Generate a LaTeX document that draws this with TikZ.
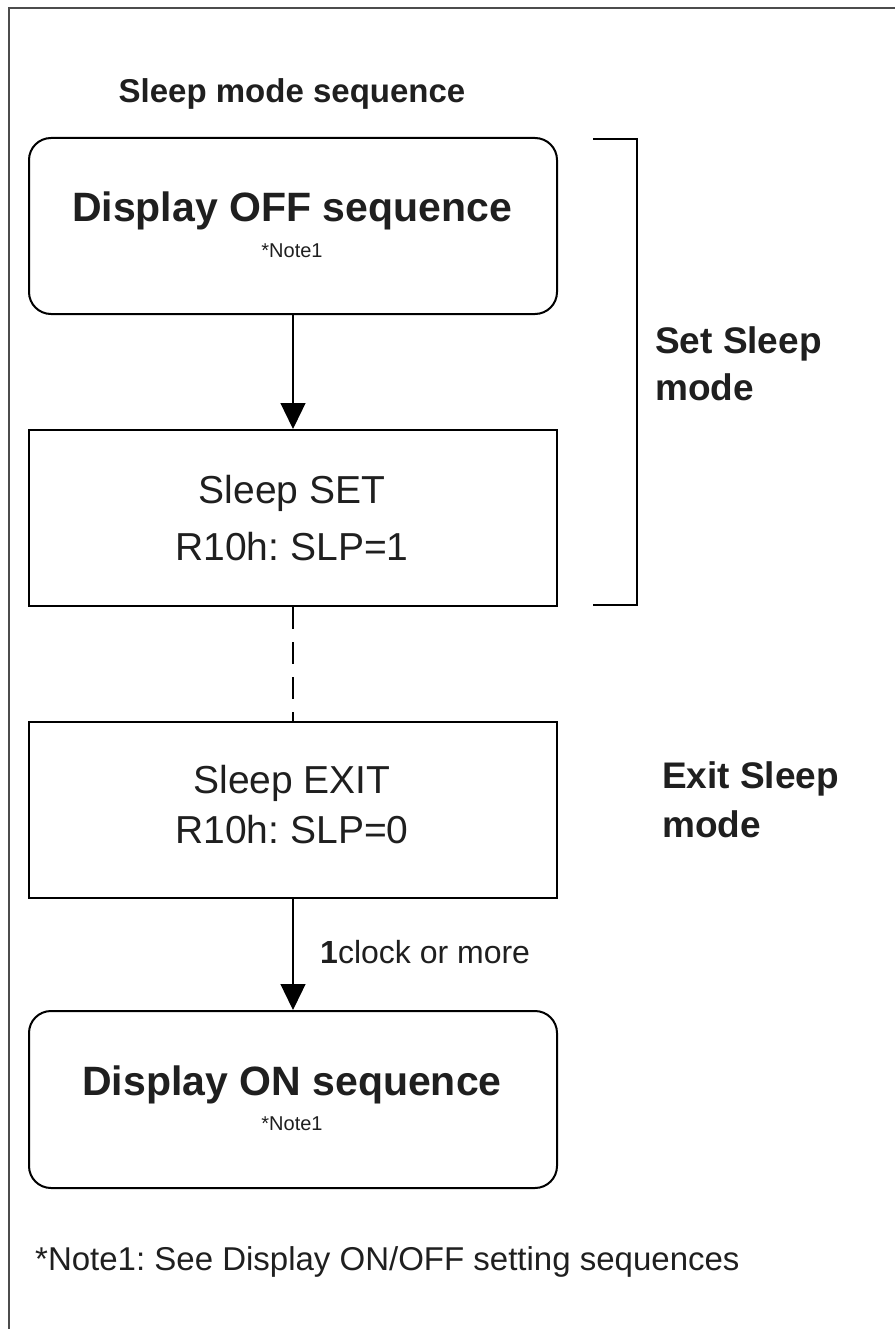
\documentclass[tikz,border=0pt]{standalone}
\usepackage{fontspec}
\setmainfont{Liberation Sans}
\usetikzlibrary{arrows.meta}
\frenchspacing
\begin{document}
\begin{tikzpicture}[x=1pt,y=-1pt,
  box/.style={draw=black, line width=2pt, minimum width=528pt, minimum height=176pt, inner sep=0pt, anchor=north west},
  rbox/.style={box, rounded corners=22pt},
  txt/.style={inner sep=0pt, anchor=base, text=black!88},
  bigbold/.style={txt, font=\fontsize{41}{49}\selectfont\bfseries},
  boxtext/.style={txt, font=\fontsize{39}{47}\selectfont},
  sidebold/.style={txt, anchor=base west, font=\fontsize{37}{44}\selectfont\bfseries},
  notetext/.style={txt, font=\fontsize{20}{24}\selectfont},
  flow/.style={line width=1.3pt, -{Triangle[length=26pt, width=25pt]}},
  brk/.style={line width=1.5pt}
]
\useasboundingbox (0,0) rectangle (895,1329);
% outer frame (cropped)
\coordinate (fbl) at (9,1329);
\coordinate (ftl) at (9,8);
\coordinate (ftr) at (895,8);
\draw[line width=2pt, black!70] (fbl) -- (ftl) -- (ftr);

% title
\node[txt, font=\fontsize{33}{40}\selectfont\bfseries] (title) at (292,103) {Sleep mode sequence};

% boxes
\node[rbox] (b1) at (28,137) {};
\node[box]  (b2) at (28,429) {};
\node[box]  (b3) at (28,721) {};
\node[box, minimum height=177pt, rounded corners=22pt] (b4) at (28,1010) {};

% box texts
\node[bigbold] (t1) at (292,222) {Display OFF sequence};
\node[notetext] (n1) at (292,258) {*Note1};
\node[boxtext] (t2a) at (292,503) {Sleep SET};
\node[boxtext] (t2b) at (292,560) {R10h: SLP=1};
\node[boxtext] (t3a) at (292,793) {Sleep EXIT};
\node[boxtext] (t3b) at (292,843) {R10h: SLP=0};
\node[bigbold] (t4) at (292,1095) {Display ON sequence};
\node[notetext] (n4) at (292,1130) {*Note1};

% connectors
\draw[flow] (b1.south) -- (b2.north);
\draw[line width=1.3pt, dash pattern=on 22pt off 13pt] (b2.south) -- (b3.north);
\draw[flow] (b3.south) -- (b4.north);
\node[txt, anchor=base west, font=\fontsize{32}{38}\selectfont] (clk) at (320,963) {\textbf{1}clock or more};

% bracket
\coordinate (k1) at (593,139);
\coordinate (k2) at (637,139);
\coordinate (k3) at (637,605);
\coordinate (k4) at (593,605);
\draw[brk] (k1) -- (k2) -- (k3) -- (k4);

% side labels
\node[sidebold] (s1) at (655,353) {Set Sleep};
\node[sidebold] (s2) at (655,400) {mode};
\node[sidebold] (e1) at (662,788) {Exit Sleep};
\node[sidebold] (e2) at (662,837) {mode};

% footnote
\node[txt, anchor=base west, font=\fontsize{33}{40}\selectfont] (foot) at (35,1270) {*Note1: See Display ON/OFF setting sequences};
\end{tikzpicture}
\end{document}
